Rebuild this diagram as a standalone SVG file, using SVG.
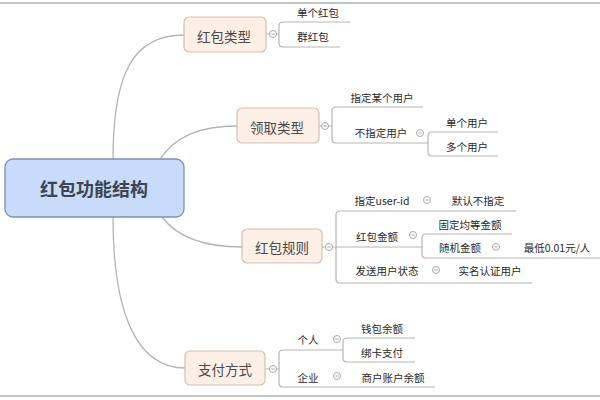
<svg xmlns="http://www.w3.org/2000/svg" width="600" height="400" viewBox="0 0 600 400">
<style>
text{font-family:"Noto Sans CJK SC","Liberation Sans",sans-serif;fill:#404040;text-anchor:middle;dominant-baseline:central}
.root rect{fill:#c8dbfb;stroke:#7f90b2;stroke-width:1.3}
.root text{font-size:18px;font-weight:bold;fill:#3f4550}
.topic rect{fill:#fcefe5;stroke:#d6bfae;stroke-width:1.2}
.topic text{font-size:13.5px;fill:#4a4a4a}
.leaf{font-size:10.5px;fill:#2a2a2a}
.conn path{fill:none;stroke:#b5b5b5;stroke-width:1.3}
.br path{fill:none;stroke:#b5b5b5;stroke-width:1.2}
.tog circle{fill:#fff;stroke:#a8a8a8;stroke-width:1}
.tog path{stroke:#a8a8a8;stroke-width:1}
.frame{stroke:#8a8a8a;stroke-width:1.2}
</style>
<rect width="600" height="400" fill="#fff"/>
<line class="frame" x1="0" y1="3" x2="600" y2="3"/>
<line class="frame" x1="0" y1="396" x2="600" y2="396"/>
<g id="connectors" class="conn">
<path d="M113,159 C113,70 135,35 184,35"/>
<path d="M160,159 C176,136 200,126 237,126"/>
<path d="M162,217 C178,238 205,247 242,247"/>
<path d="M113,217 C113,320 140,368 185,368"/>
</g>
<g id="brackets" class="br">
<path d="M266,34 H279 M350,22 H283 Q279,22 279,26 V43 Q279,47 283,47 H340"/>
<path d="M319,126 H332 M423,107 H336 Q332,107 332,111 V139 Q332,143 336,143 H428"/>
<path d="M498,132 H432 Q428,132 428,136 V152 Q428,156 432,156 H498"/>
<path d="M322,247 H422 M516,211 H340 Q336,211 336,215 V279 Q336,283 340,283 H532"/>
<path d="M512,234 H426 Q422,234 422,238 V254 Q422,258 426,258 H600"/>
<path d="M265,369 H279 M343,350 H283 Q279,350 279,354 V383 Q279,387 283,387 H435"/>
<path d="M415,338 H347 Q343,338 343,342 V358 Q343,362 347,362 H415"/>
</g>
<g id="root" class="root">
<rect x="5" y="159" width="179" height="58" rx="8"/>
<text x="94" y="188">红包功能结构</text>
</g>
<g id="t1" class="topic">
<rect x="184" y="17" width="82" height="35" rx="5"/>
<text x="224" y="36">红包类型</text>
</g>
<g id="t2" class="topic">
<rect x="237" y="108" width="82" height="35" rx="5"/>
<text x="277" y="127">领取类型</text>
</g>
<g id="t3" class="topic">
<rect x="242" y="229" width="80" height="34" rx="5"/>
<text x="282" y="247">红包规则</text>
</g>
<g id="t4" class="topic">
<rect x="185" y="351" width="80" height="34" rx="5"/>
<text x="225" y="369">支付方式</text>
</g>
<g id="toggles" class="tog">
<g><circle cx="273" cy="34" r="3.5"/><path d="M271.3,34 H274.7"/></g>
<g><circle cx="325" cy="126" r="3.5"/><path d="M323.3,126 H326.7"/></g>
<g><circle cx="420" cy="133" r="3.5"/><path d="M418.3,133 H421.7"/></g>
<g><circle cx="329" cy="247" r="3.5"/><path d="M327.3,247 H330.7"/></g>
<g><circle cx="427" cy="200" r="3.5"/><path d="M425.3,200 H428.7"/></g>
<g><circle cx="413" cy="235" r="3.5"/><path d="M411.3,235 H414.7"/></g>
<g><circle cx="496" cy="247" r="3.5"/><path d="M494.3,247 H497.7"/></g>
<g><circle cx="436" cy="270" r="3.5"/><path d="M434.3,270 H437.7"/></g>
<g><circle cx="273" cy="369" r="3.5"/><path d="M271.3,369 H274.7"/></g>
<g><circle cx="337" cy="339" r="3.5"/><path d="M335.3,339 H338.7"/></g>
<g><circle cx="337" cy="376" r="3.5"/><path d="M335.3,376 H338.7"/></g>
</g>
<g id="leaves">
<text class="leaf" x="318" y="12">单个红包</text>
<text class="leaf" x="313" y="36">群红包</text>
<text class="leaf" x="382" y="97">指定某个用户</text>
<text class="leaf" x="381" y="132">不指定用户</text>
<text class="leaf" x="467" y="122">单个用户</text>
<text class="leaf" x="467" y="146">多个用户</text>
<text class="leaf" x="382" y="200">指定user-id</text>
<text class="leaf" x="478" y="200">默认不指定</text>
<text class="leaf" x="377" y="236">红包金额</text>
<text class="leaf" x="470" y="224">固定均等金额</text>
<text class="leaf" x="460" y="247">随机金额</text>
<text class="leaf" x="557" y="247">最低0.01元/人</text>
<text class="leaf" x="387" y="270">发送用户状态</text>
<text class="leaf" x="490" y="270">实名认证用户</text>
<text class="leaf" x="308" y="339">个人</text>
<text class="leaf" x="382" y="328">钱包余额</text>
<text class="leaf" x="382" y="352">绑卡支付</text>
<text class="leaf" x="308" y="377">企业</text>
<text class="leaf" x="393" y="377">商户账户余额</text>
</g>
</svg>
